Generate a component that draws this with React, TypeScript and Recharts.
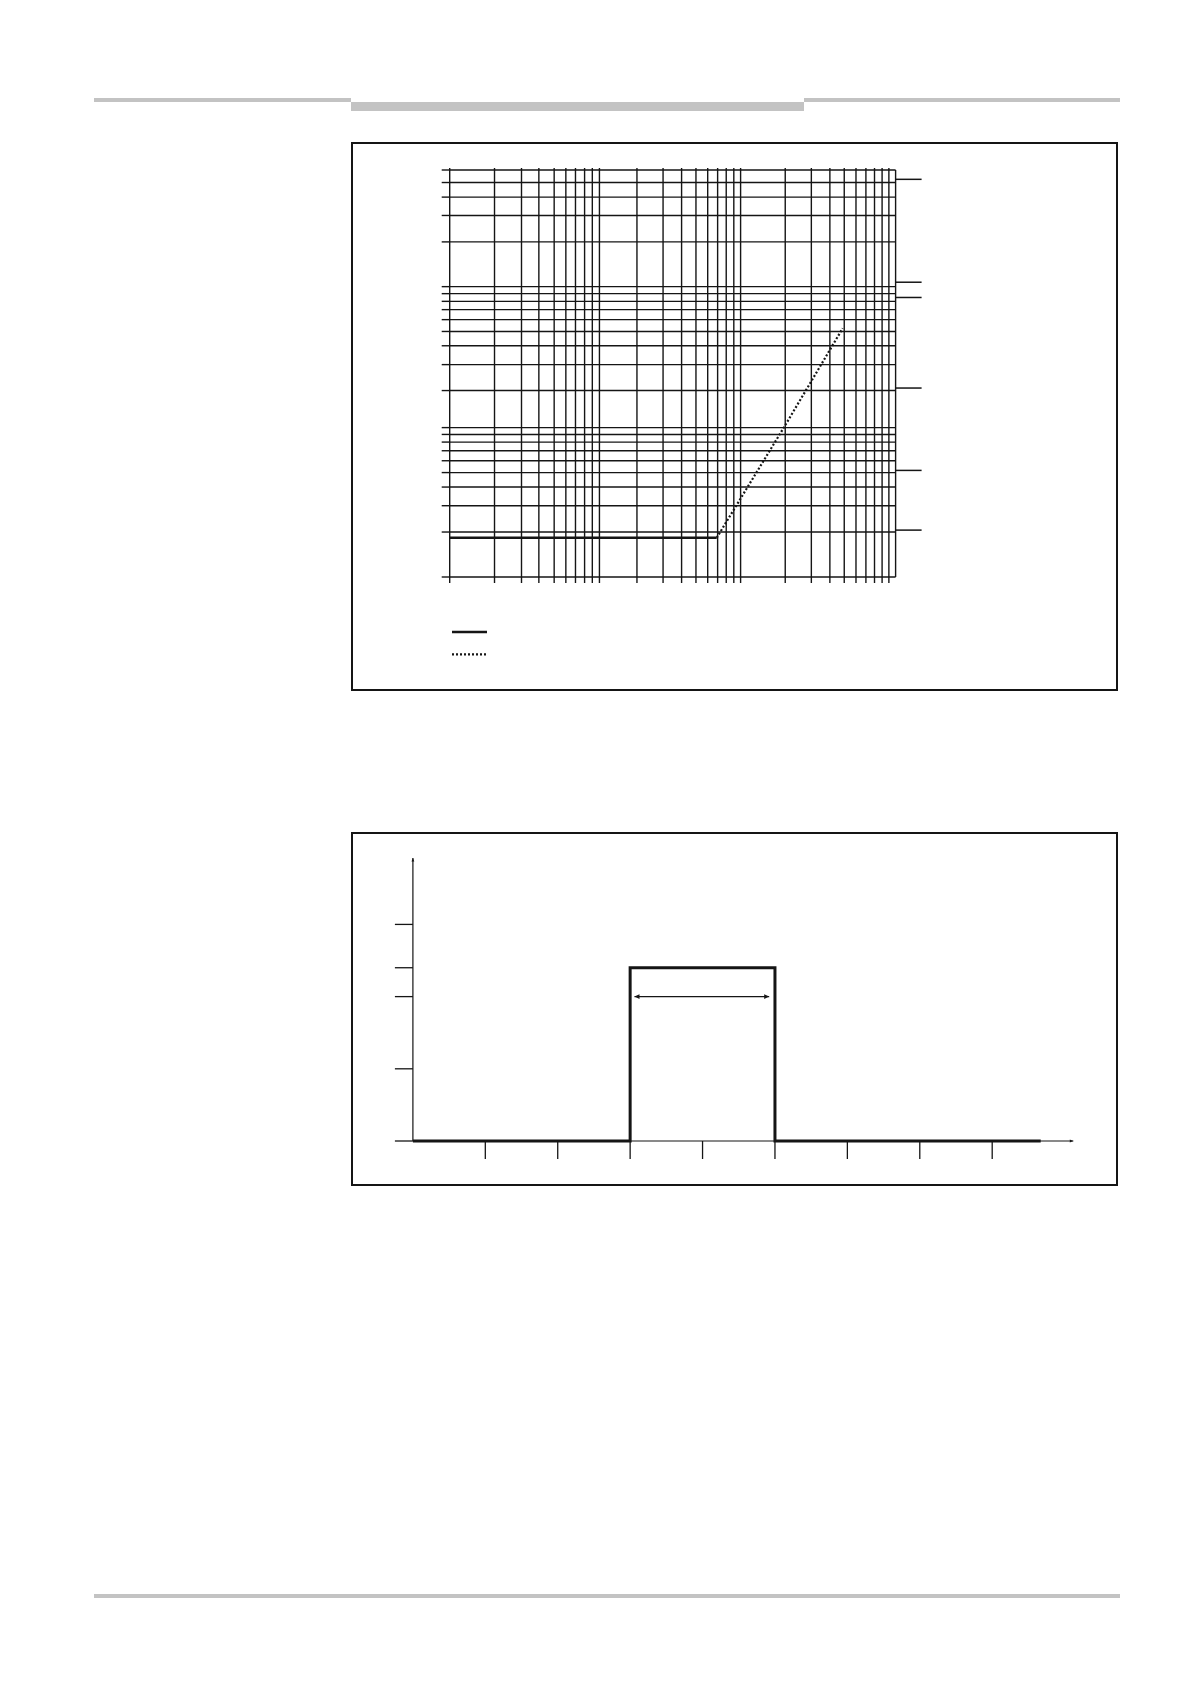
import { LineChart, Line, XAxis, YAxis, CartesianGrid, ReferenceLine, Legend } from 'recharts'

// --- log-log chart (top) ---
// grid lines as they sit on the scanned paper (first x decade and upper y decades are offset)
const xGrid = [0.1092, 0.219, 0.333, 0.436, 0.553, 0.663, 0.77, 0.887, 1, 1.117, 2, 3, 4, 5, 6, 7, 8, 9, 10, 20, 30, 40, 50, 60, 70, 80, 90, 100]
const yGrid = [1, 2, 3, 4, 5, 6, 7, 8, 9, 10, 17.7, 26.4, 35.3, 44, 52.8, 61.6, 70, 78.8, 87.8, 175, 263, 349, 437, 530]
const rightTicks = [2.06, 5.17, 18.4, 74.3, 94, 459]
const xDomain = [0.1092, 111]
const yDomain = [1, 530]

const flatX = [0.1092, 6.9]
const flatY = [1.83, 1.83]
const riseX = [6.9, 19.8, 48.8]
const riseY = [1.83, 10.2, 46.2]

// --- pulse chart (bottom) ---
const pulseX = [0, 3, 3, 5, 5, 8.67]
const pulseY = [0, 0, 2.4, 2.4, 0, 0]
const pulseXTicks = [1, 2, 3, 4, 5, 6, 7, 8]
const pulseYTicks = [0, 1, 2, 2.4, 3]
const pulseXMax = 9.12
const pulseYMax = 3.92
const widthFrom = 3.06
const widthTo = 4.92
const widthLevel = 2

const flatData = flatX.map((x, i) => ({ x, y: flatY[i] }))
const riseData = riseX.map((x, i) => ({ x, y: riseY[i] }))
const pulseData = pulseX.map((x, i) => ({ x, y: pulseY[i] }))

const series = [
  { key: 'flat', data: flatData, dash: undefined as string | undefined, width: 2.6 },
  { key: 'rise', data: riseData, dash: '2 2', width: 2.2 },
]

const INK = '#151515'
const GREY = '#c3c3c3'
const blank = () => ''

function arrowHead(x1: number, y1: number, x2: number, y2: number, len: number, half: number) {
  const a = Math.atan2(y2 - y1, x2 - x1)
  const bx = x2 - len * Math.cos(a)
  const by = y2 - len * Math.sin(a)
  const nx = -Math.sin(a) * half
  const ny = Math.cos(a) * half
  return `${x2},${y2} ${bx + nx},${by + ny} ${bx - nx},${by - ny}`
}

function Arrow(props: any) {
  const { x1, y1, x2, y2, both, len = 4, half = 1.6, width = 1.2 } = props
  if ([x1, y1, x2, y2].some((v) => typeof v !== 'number')) return null
  return (
    <g>
      <line x1={x1} y1={y1} x2={x2} y2={y2} stroke={INK} strokeWidth={width} />
      <polygon points={arrowHead(x1, y1, x2, y2, len, half)} fill={INK} />
      {both && <polygon points={arrowHead(x2, y2, x1, y1, len, half)} fill={INK} />}
    </g>
  )
}

function LegendSamples() {
  return (
    <svg width={40} height={36}>
      {series.map((s, i) => (
        <line
          key={s.key}
          x1={0}
          x2={35}
          y1={7 + i * 22.3}
          y2={7 + i * 22.3}
          stroke={INK}
          strokeWidth={s.width}
          strokeDasharray={s.dash}
        />
      ))}
    </svg>
  )
}

function LogChart() {
  return (
    <div style={{ position: 'absolute', left: 0, top: 0 }}>
      <LineChart width={1190} height={700} margin={{ top: 168, right: 264.4, bottom: 117, left: 441.7 }}>
        <CartesianGrid stroke={INK} strokeWidth={1.4} />
        <XAxis
          dataKey="x"
          type="number"
          scale="log"
          domain={xDomain}
          allowDataOverflow
          ticks={xGrid}
          interval={0}
          tickSize={6}
          height={6}
          tickFormatter={blank}
          axisLine={false}
          tickLine={{ stroke: INK, strokeWidth: 1.4 }}
        />
        <XAxis
          xAxisId="top"
          orientation="top"
          dataKey="x"
          type="number"
          scale="log"
          domain={xDomain}
          allowDataOverflow
          ticks={xGrid}
          interval={0}
          tickSize={2}
          height={2}
          tickFormatter={blank}
          axisLine={false}
          tickLine={{ stroke: INK, strokeWidth: 1.4 }}
        />
        <YAxis
          type="number"
          scale="log"
          domain={yDomain}
          allowDataOverflow
          ticks={yGrid}
          interval={0}
          tickSize={8}
          width={8}
          tickFormatter={blank}
          axisLine={false}
          tickLine={{ stroke: INK, strokeWidth: 1.4 }}
        />
        <YAxis
          yAxisId="right"
          orientation="right"
          type="number"
          scale="log"
          domain={yDomain}
          allowDataOverflow
          ticks={rightTicks}
          interval={0}
          tickSize={26}
          width={30}
          tickFormatter={blank}
          axisLine={false}
          tickLine={{ stroke: INK, strokeWidth: 1.5 }}
        />
        {series.map((s) => (
          <Line
            key={s.key}
            data={s.data}
            dataKey="y"
            type="linear"
            stroke={INK}
            strokeWidth={s.width}
            strokeDasharray={s.dash}
            dot={false}
            isAnimationActive={false}
          />
        ))}
        <Legend
          layout="horizontal"
          align="center"
          verticalAlign="middle"
          content={() => <LegendSamples />}
          wrapperStyle={{ left: 452, top: 625, width: 40, height: 36 }}
        />
      </LineChart>
    </div>
  )
}

function PulseChart() {
  return (
    <div style={{ position: 'absolute', left: 0, top: 800 }}>
      <LineChart width={1190} height={400} data={pulseData} margin={{ top: 58, right: 116.7, bottom: 41, left: 394.9 }}>
        <XAxis
          dataKey="x"
          type="number"
          domain={[0, pulseXMax]}
          ticks={pulseXTicks}
          interval={0}
          tickSize={18}
          height={18}
          tickFormatter={blank}
          axisLine={false}
          tickLine={{ stroke: INK, strokeWidth: 1.3 }}
        />
        <YAxis
          type="number"
          domain={[0, pulseYMax]}
          ticks={pulseYTicks}
          interval={0}
          tickSize={18}
          width={18}
          tickFormatter={blank}
          axisLine={false}
          tickLine={{ stroke: INK, strokeWidth: 1.3 }}
        />
        <ReferenceLine
          segment={[{ x: 0, y: 0 }, { x: pulseXMax, y: 0 }]}
          ifOverflow="visible"
          shape={(p: any) => <Arrow {...p} len={3.5} half={1.4} />}
        />
        <ReferenceLine
          segment={[{ x: 0, y: 0 }, { x: 0, y: pulseYMax }]}
          ifOverflow="visible"
          shape={(p: any) => <Arrow {...p} len={3.5} half={1.4} />}
        />
        <Line
          dataKey="y"
          type="linear"
          stroke={INK}
          strokeWidth={3}
          dot={false}
          isAnimationActive={false}
        />
        <ReferenceLine
          segment={[{ x: widthFrom, y: widthLevel }, { x: widthTo, y: widthLevel }]}
          ifOverflow="visible"
          shape={(p: any) => <Arrow {...p} both len={5} half={2.4} width={1.4} />}
        />
      </LineChart>
    </div>
  )
}

export default function App() {
  const box = (left: number, top: number, w: number, h: number) => (
    <div
      style={{
        position: 'absolute',
        left,
        top,
        width: w,
        height: h,
        border: `2px solid ${INK}`,
        boxSizing: 'border-box',
      }}
    />
  )
  return (
    <div style={{ position: 'absolute', left: 0, top: 0, width: 1190, height: 1684, background: '#fff', overflow: 'hidden' }}>
      {/* page header / footer rules */}
      <div style={{ position: 'absolute', left: 94, top: 98, width: 257, height: 3.6, background: GREY }} />
      <div style={{ position: 'absolute', left: 351, top: 102, width: 453, height: 8.7, background: GREY }} />
      <div style={{ position: 'absolute', left: 804, top: 98, width: 316, height: 3.6, background: GREY }} />
      <div style={{ position: 'absolute', left: 94, top: 1594, width: 1026, height: 3.6, background: GREY }} />

      {box(351, 141.5, 767, 549.5)}
      {box(351, 831.5, 767, 354.3)}

      <LogChart />
      <PulseChart />
    </div>
  )
}
